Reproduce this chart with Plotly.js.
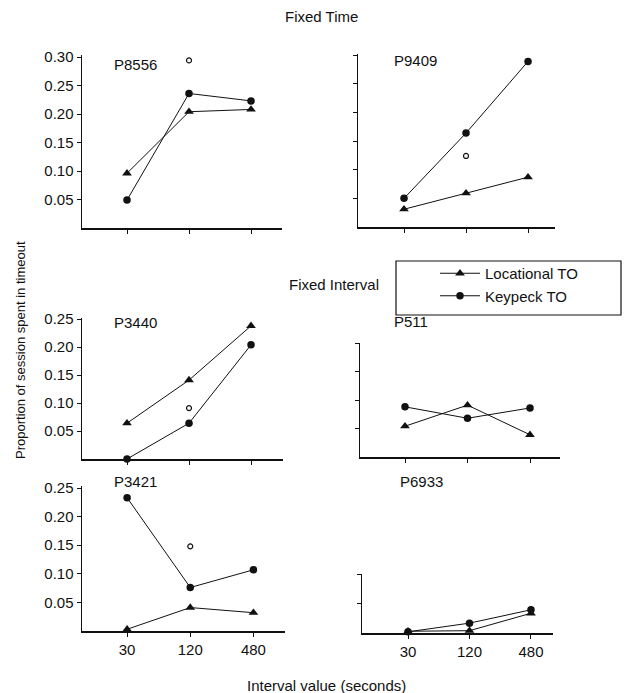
<!DOCTYPE html>
<html>
<head>
<meta charset="utf-8">
<script src="https://cdn.plot.ly/plotly-3.0.1.min.js"></script>
<style>html,body{margin:0;padding:0;background:#fff;}#chart{width:640px;height:693px;}</style>
</head>
<body>
<div id="chart"></div>
<script>
// ---- data ----
const intervals = ['30', '120', '480'];
const panelNames = ['P8556', 'P9409', 'P3440', 'P511', 'P3421', 'P6933'];

const locP8556 = [0.096, 0.204, 0.208];
const keyP8556 = [0.049, 0.236, 0.223];
const locP9409 = [0.031, 0.059, 0.087];
const keyP9409 = [0.050, 0.164, 0.289];
const locP3440 = [0.064, 0.141, 0.238];
const keyP3440 = [0.000, 0.064, 0.204];
const locP511  = [0.054, 0.091, 0.039];
const keyP511  = [0.088, 0.068, 0.086];
const locP3421 = [0.003, 0.041, 0.032];
const keyP3421 = [0.233, 0.076, 0.107];
const locP6933 = [0.003, 0.004, 0.034];
const keyP6933 = [0.002, 0.017, 0.040];

// extra open-circle point at the 120-s interval (no value for P511, P6933)
const openInterval = '120';
const openValues = [0.294, 0.124, 0.091, null, 0.148, null];

const yTickValsTall = [0.05, 0.10, 0.15, 0.20, 0.25, 0.30];
const yTickValsMid  = [0.05, 0.10, 0.15, 0.20, 0.25];
const yTickValsP511 = [0.05, 0.10, 0.15, 0.20];
const yTickValsP6933 = [0.05, 0.10];

const locSeries = [locP8556, locP9409, locP3440, locP511, locP3421, locP6933];
const keySeries = [keyP8556, keyP9409, keyP3440, keyP511, keyP3421, keyP6933];

// ---- layout geometry (pixels in a 640x693 page) ----
const W = 640, H = 693;
const px = x => x / W;
const py = y => 1 - y / H;
// [xLeft, xRight, yTop, yBottom, xRangeStart, xRangeEnd, yMax, yTicks, showYLabels, showXLabels]
const geom = [
  [82, 282, 55, 228, -0.726, 2.50, 0.3035, yTickValsTall, true, false],
  [358, 555, 54, 227, -0.742, 2.435, 0.302, yTickValsTall, false, false],
  [82, 283, 318, 459, -0.726, 2.516, 0.252, yTickValsMid, true, false],
  [360, 560, 343, 457, -0.72, 2.48, 0.200, yTickValsP511, false, false],
  [82, 285, 486, 631, -0.714, 2.50, 0.2535, yTickValsMid, true, true],
  [362, 553, 574, 633, -0.748, 2.358, 0.1017, yTickValsP6933, false, true]
];
const labelPos = [[135, 64], [415, 61], [135, 322], [411, 321], [135, 481], [421, 481]];

const FONT = 'Liberation Sans, Arial, Helvetica, sans-serif';
const INK = '#111';

const traces = [];
const layout = {
  width: W, height: H,
  margin: {l: 0, r: 0, t: 0, b: 0},
  paper_bgcolor: '#fff', plot_bgcolor: 'rgba(0,0,0,0)',
  font: {family: FONT, size: 15, color: INK},
  showlegend: true,
  legend: {
    x: px(435), y: py(257), xanchor: 'left', yanchor: 'top',
    bgcolor: 'rgba(0,0,0,0)', borderwidth: 0,
    font: {family: FONT, size: 15, color: INK},
    itemwidth: 40, tracegroupgap: 0, traceorder: 'grouped'
  },
  annotations: [],
  shapes: []
};

geom.forEach((g, i) => {
  const n = i === 0 ? '' : String(i + 1);
  const xa = 'x' + n, ya = 'y' + n;
  traces.push({
    x: intervals, y: locSeries[i], xaxis: xa, yaxis: ya,
    type: 'scatter', mode: 'lines+markers', name: 'Locational TO',
    legendgroup: 'loc', showlegend: i === 0, cliponaxis: false,
    line: {color: INK, width: 1},
    marker: {symbol: 'triangle-up', size: 8.5, color: INK}
  });
  traces.push({
    x: intervals, y: keySeries[i], xaxis: xa, yaxis: ya,
    type: 'scatter', mode: 'lines+markers', name: 'Keypeck TO',
    legendgroup: 'key', showlegend: i === 0, cliponaxis: false,
    line: {color: INK, width: 1},
    marker: {symbol: 'circle', size: 7.5, color: INK}
  });
  if (openValues[i] !== null) {
    traces.push({
      x: [openInterval], y: [openValues[i]], xaxis: xa, yaxis: ya,
      type: 'scatter', mode: 'markers', showlegend: false, cliponaxis: false,
      marker: {symbol: 'circle-open', size: 5, color: INK, line: {width: 1.2, color: INK}}
    });
  }
  layout['xaxis' + n] = {
    domain: [px(g[0]), px(g[1])], anchor: ya,
    type: 'category', categoryorder: 'array', categoryarray: intervals,
    range: [g[4], g[5]],
    showline: true, linecolor: INK, linewidth: 1.5,
    showgrid: false, zeroline: false,
    ticks: 'outside', ticklen: 4, tickwidth: 1, tickcolor: INK,
    showticklabels: g[9], tickfont: {family: FONT, size: 15, color: INK},
    fixedrange: true
  };
  layout['yaxis' + n] = {
    domain: [py(g[3]), py(g[2])], anchor: xa,
    range: [0, g[6]],
    showline: true, linecolor: INK, linewidth: 1.5,
    showgrid: false, zeroline: false,
    tickmode: 'array', tickvals: g[7],
    ticktext: g[7].map(v => v.toFixed(2)),
    ticks: 'outside', ticklen: 4, tickwidth: 1, tickcolor: INK,
    showticklabels: g[8], tickfont: {family: FONT, size: 15, color: INK},
    fixedrange: true
  };
  layout.annotations.push({
    text: panelNames[i], xref: 'paper', yref: 'paper',
    x: px(labelPos[i][0]), y: py(labelPos[i][1]),
    xanchor: 'center', yanchor: 'middle', showarrow: false,
    font: {family: FONT, size: 15, color: INK}
  });
});

layout.annotations.push(
  {text: 'Fixed Time', xref: 'paper', yref: 'paper', x: px(321), y: py(17),
   xanchor: 'center', yanchor: 'middle', showarrow: false, font: {family: FONT, size: 15, color: INK}},
  {text: 'Fixed Interval', xref: 'paper', yref: 'paper', x: px(334), y: py(285),
   xanchor: 'center', yanchor: 'middle', showarrow: false, font: {family: FONT, size: 15, color: INK}},
  {text: 'Interval value (seconds)', xref: 'paper', yref: 'paper', x: px(326), y: py(685),
   xanchor: 'center', yanchor: 'middle', showarrow: false, font: {family: FONT, size: 15, color: INK}},
  {text: 'Proportion of session spent in timeout', xref: 'paper', yref: 'paper', x: px(20), y: py(350),
   xanchor: 'center', yanchor: 'middle', textangle: -90, showarrow: false, font: {family: FONT, size: 13, color: INK}}
);

// legend frame
layout.shapes.push({
  type: 'rect', xref: 'paper', yref: 'paper',
  x0: px(396), x1: px(621), y0: py(261), y1: py(315),
  line: {color: INK, width: 1.2}, fillcolor: 'rgba(0,0,0,0)'
});

Plotly.newPlot('chart', traces, layout, {displayModeBar: false, staticPlot: true});
</script>
</body>
</html>
